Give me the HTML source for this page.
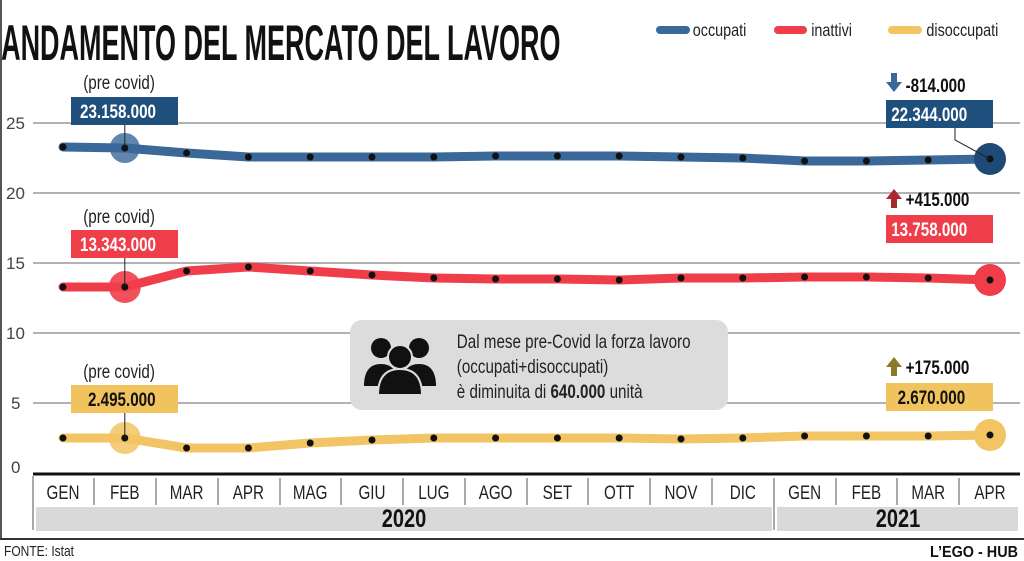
<!DOCTYPE html>
<html><head><meta charset="utf-8"><style>
html,body{margin:0;padding:0;background:#fff;}
svg{display:block;font-family:"Liberation Sans",sans-serif;}
</style></head><body>
<svg width="1024" height="561" viewBox="0 0 1024 561" xmlns="http://www.w3.org/2000/svg">
<rect width="1024" height="561" fill="#fff"/>
<line x1="1" y1="0" x2="1" y2="540" stroke="#555" stroke-width="2"/>
<text x="2" y="60" font-size="50" font-weight="bold" transform="scale(0.54,1)" fill="#111">ANDAMENTO DEL MERCATO DEL LAVORO</text>
<line x1="660" y1="30" x2="686" y2="30" stroke="#3a6898" stroke-width="8" stroke-linecap="round"/>
<line x1="778" y1="30" x2="803" y2="30" stroke="#ef3e4a" stroke-width="8" stroke-linecap="round"/>
<line x1="892" y1="30" x2="918" y2="30" stroke="#f2c463" stroke-width="8" stroke-linecap="round"/>
<g font-size="18" fill="#222">
<text x="866" y="36" transform="scale(0.8,1)">occupati</text>
<text x="1014" y="36" transform="scale(0.8,1)">inattivi</text>
<text x="1158" y="36" transform="scale(0.8,1)">disoccupati</text>
</g>
<g stroke="#999" stroke-width="1.5">
<line x1="33" y1="123" x2="1020" y2="123"/>
<line x1="33" y1="193" x2="1020" y2="193"/>
<line x1="33" y1="263" x2="1020" y2="263"/>
<line x1="33" y1="333" x2="1020" y2="333"/>
<line x1="33" y1="403" x2="1020" y2="403"/>
</g>
<g font-size="17" fill="#444">
<text x="6" y="129">25</text><text x="6" y="199">20</text><text x="6" y="269">15</text>
<text x="6" y="339">10</text><text x="11" y="409">5</text><text x="11" y="473">0</text>
</g>
<rect x="350" y="320" width="378" height="90" rx="12" fill="#dcdcdc"/>
<g fill="#111">
<circle cx="381" cy="348" r="10"/><circle cx="419" cy="348" r="10"/>
<path d="M364 386 q0-22 17-22 q17 0 17 22z"/><path d="M402 386 q0-22 17-22 q17 0 17 22z"/>
<circle cx="400" cy="357" r="12" stroke="#dcdcdc" stroke-width="2"/>
<path d="M378 395 q0-26 22-26 q22 0 22 26z" stroke="#dcdcdc" stroke-width="2"/>
</g>
<g font-size="19" fill="#222">
<text x="571" y="348" transform="scale(0.8,1)">Dal mese pre-Covid la forza lavoro</text>
<text x="571" y="373" transform="scale(0.8,1)">(occupati+disoccupati)</text>
<text x="571" y="398" transform="scale(0.8,1)">è diminuita di <tspan font-weight="bold">640.000</tspan> unità</text>
</g>
<g fill="none" stroke-width="9" stroke-linejoin="round" stroke-linecap="round">
<polyline stroke="#3a6898" points="63,147 124.8,148 186.6,153 248.4,157 310.2,157 372,157 433.8,157 495.6,156 557.4,156 619.2,156 681,157 742.8,158 804.6,161 866.4,161 928.2,160 990,159"/>
<polyline stroke="#ef3e4a" points="63,287 124.8,287 186.6,271 248.4,267 310.2,271 372,275 433.8,278 495.6,279 557.4,279 619.2,280 681,278 742.8,278 804.6,277 866.4,277 928.2,278 990,280"/>
<polyline stroke="#f2c463" points="63,438 124.8,438 186.6,448 248.4,448 310.2,443 372,440 433.8,438 495.6,438 557.4,438 619.2,438 681,439 742.8,438 804.6,436 866.4,436 928.2,436 990,435"/>
</g>
<circle cx="124.8" cy="148" r="15" fill="#3a6898" opacity="0.8"/>
<circle cx="990" cy="159" r="16" fill="#1e4a78"/>
<circle cx="124.8" cy="287" r="16" fill="#ef3e4a" opacity="0.9"/>
<circle cx="990" cy="280" r="16" fill="#ef3e4a"/>
<circle cx="124.8" cy="438" r="16" fill="#f2c463" opacity="0.85"/>
<circle cx="990" cy="435" r="16" fill="#f2c463"/>
<g fill="#111">
<circle cx="63" cy="147" r="3.5"/><circle cx="124.8" cy="148" r="3.5"/><circle cx="186.6" cy="153" r="3.5"/><circle cx="248.4" cy="157" r="3.5"/><circle cx="310.2" cy="157" r="3.5"/><circle cx="372" cy="157" r="3.5"/><circle cx="433.8" cy="157" r="3.5"/><circle cx="495.6" cy="156" r="3.5"/><circle cx="557.4" cy="156" r="3.5"/><circle cx="619.2" cy="156" r="3.5"/><circle cx="681" cy="157" r="3.5"/><circle cx="742.8" cy="158" r="3.5"/><circle cx="804.6" cy="161" r="3.5"/><circle cx="866.4" cy="161" r="3.5"/><circle cx="928.2" cy="160" r="3.5"/><circle cx="990" cy="159" r="3.5"/>
<circle cx="63" cy="287" r="3.5"/><circle cx="124.8" cy="287" r="3.5"/><circle cx="186.6" cy="271" r="3.5"/><circle cx="248.4" cy="267" r="3.5"/><circle cx="310.2" cy="271" r="3.5"/><circle cx="372" cy="275" r="3.5"/><circle cx="433.8" cy="278" r="3.5"/><circle cx="495.6" cy="279" r="3.5"/><circle cx="557.4" cy="279" r="3.5"/><circle cx="619.2" cy="280" r="3.5"/><circle cx="681" cy="278" r="3.5"/><circle cx="742.8" cy="278" r="3.5"/><circle cx="804.6" cy="277" r="3.5"/><circle cx="866.4" cy="277" r="3.5"/><circle cx="928.2" cy="278" r="3.5"/><circle cx="990" cy="280" r="3.5"/>
<circle cx="63" cy="438" r="3.5"/><circle cx="124.8" cy="438" r="3.5"/><circle cx="186.6" cy="448" r="3.5"/><circle cx="248.4" cy="448" r="3.5"/><circle cx="310.2" cy="443" r="3.5"/><circle cx="372" cy="440" r="3.5"/><circle cx="433.8" cy="438" r="3.5"/><circle cx="495.6" cy="438" r="3.5"/><circle cx="557.4" cy="438" r="3.5"/><circle cx="619.2" cy="438" r="3.5"/><circle cx="681" cy="439" r="3.5"/><circle cx="742.8" cy="438" r="3.5"/><circle cx="804.6" cy="436" r="3.5"/><circle cx="866.4" cy="436" r="3.5"/><circle cx="928.2" cy="436" r="3.5"/><circle cx="990" cy="435" r="3.5"/>
</g>
<g stroke="#222" stroke-width="1">
<line x1="124.8" y1="124" x2="124.8" y2="148"/>
<polyline fill="none" points="955,127 955,140 990,159"/>
<line x1="124.8" y1="258" x2="124.8" y2="287"/>
<line x1="124.8" y1="412" x2="124.8" y2="438"/>
</g>
<g font-size="19">
<text x="104" y="89" fill="#222" transform="scale(0.8,1)">(pre covid)</text>
<rect x="71" y="97" width="107" height="28" fill="#1f4f7c"/>
<text x="100" y="118" fill="#fff" font-weight="bold" transform="scale(0.8,1)">23.158.000</text>
<text x="104" y="223" fill="#222" transform="scale(0.8,1)">(pre covid)</text>
<rect x="71" y="230" width="107" height="28" fill="#ef3e4a"/>
<text x="100" y="251" fill="#fff" font-weight="bold" transform="scale(0.8,1)">13.343.000</text>
<text x="104" y="378" fill="#222" transform="scale(0.8,1)">(pre covid)</text>
<rect x="71" y="385" width="107" height="28" fill="#f1c35e"/>
<text x="110" y="406" fill="#111" font-weight="bold" transform="scale(0.8,1)">2.495.000</text>
<rect x="886" y="100" width="107" height="28" fill="#1f4f7c"/>
<text x="1114" y="121" fill="#fff" font-weight="bold" transform="scale(0.8,1)">22.344.000</text>
<rect x="886" y="215" width="107" height="28" fill="#ef3e4a"/>
<text x="1114" y="236" fill="#fff" font-weight="bold" transform="scale(0.8,1)">13.758.000</text>
<rect x="886" y="383" width="107" height="28" fill="#f1c35e"/>
<text x="1122" y="404" fill="#111" font-weight="bold" transform="scale(0.8,1)">2.670.000</text>
<text x="1132" y="92" fill="#111" font-weight="bold" transform="scale(0.8,1)">-814.000</text>
<text x="1132" y="206" fill="#111" font-weight="bold" transform="scale(0.8,1)">+415.000</text>
<text x="1132" y="374" fill="#111" font-weight="bold" transform="scale(0.8,1)">+175.000</text>
</g>
<path d="M891 73 h6 v9 h5 l-8 10 l-8 -10 h5z" fill="#3a6898"/>
<path d="M891 208 h6 v-9 h5 l-8 -10 l-8 10 h5z" fill="#a9282e"/>
<path d="M891 376 h6 v-9 h5 l-8 -10 l-8 10 h5z" fill="#8a7a2a"/>
<line x1="33" y1="474" x2="1020" y2="474" stroke="#111" stroke-width="3"/>
<g stroke="#555" stroke-width="1">
<line x1="33" y1="476" x2="33" y2="530"/>
<line x1="94" y1="478" x2="94" y2="505"/><line x1="156" y1="478" x2="156" y2="505"/><line x1="218" y1="478" x2="218" y2="505"/><line x1="280" y1="478" x2="280" y2="505"/><line x1="341" y1="478" x2="341" y2="505"/><line x1="403" y1="478" x2="403" y2="505"/><line x1="465" y1="478" x2="465" y2="505"/><line x1="527" y1="478" x2="527" y2="505"/><line x1="588" y1="478" x2="588" y2="505"/><line x1="650" y1="478" x2="650" y2="505"/><line x1="712" y1="478" x2="712" y2="505"/><line x1="774" y1="478" x2="774" y2="530"/><line x1="836" y1="478" x2="836" y2="505"/><line x1="897" y1="478" x2="897" y2="505"/><line x1="959" y1="478" x2="959" y2="505"/>
</g>
<rect x="36" y="507" width="736" height="24" fill="#d9d9d9"/>
<rect x="777" y="507" width="241" height="24" fill="#d9d9d9"/>
<g font-size="19" fill="#222" text-anchor="middle">
<text transform="translate(63,499) scale(0.8,1)">GEN</text><text transform="translate(124.8,499) scale(0.8,1)">FEB</text><text transform="translate(186.6,499) scale(0.8,1)">MAR</text><text transform="translate(248.4,499) scale(0.8,1)">APR</text><text transform="translate(310.2,499) scale(0.8,1)">MAG</text><text transform="translate(372,499) scale(0.8,1)">GIU</text><text transform="translate(433.8,499) scale(0.8,1)">LUG</text><text transform="translate(495.6,499) scale(0.8,1)">AGO</text><text transform="translate(557.4,499) scale(0.8,1)">SET</text><text transform="translate(619.2,499) scale(0.8,1)">OTT</text><text transform="translate(681,499) scale(0.8,1)">NOV</text><text transform="translate(742.8,499) scale(0.8,1)">DIC</text><text transform="translate(804.6,499) scale(0.8,1)">GEN</text><text transform="translate(866.4,499) scale(0.8,1)">FEB</text><text transform="translate(928.2,499) scale(0.8,1)">MAR</text><text transform="translate(990,499) scale(0.8,1)">APR</text>
<text transform="translate(404,527) scale(0.8,1)" font-size="25" font-weight="bold" fill="#111">2020</text>
<text transform="translate(898,527) scale(0.8,1)" font-size="25" font-weight="bold" fill="#111">2021</text>
</g>
<line x1="0" y1="539" x2="1024" y2="539" stroke="#333" stroke-width="2"/>
<text transform="translate(4,556) scale(0.8,1)" font-size="15" fill="#222">FONTE: Istat</text>
<text transform="translate(1018,557) scale(0.9,1)" font-size="16" font-weight="bold" fill="#111" text-anchor="end">L’EGO - HUB</text>
</svg>
</body></html>
